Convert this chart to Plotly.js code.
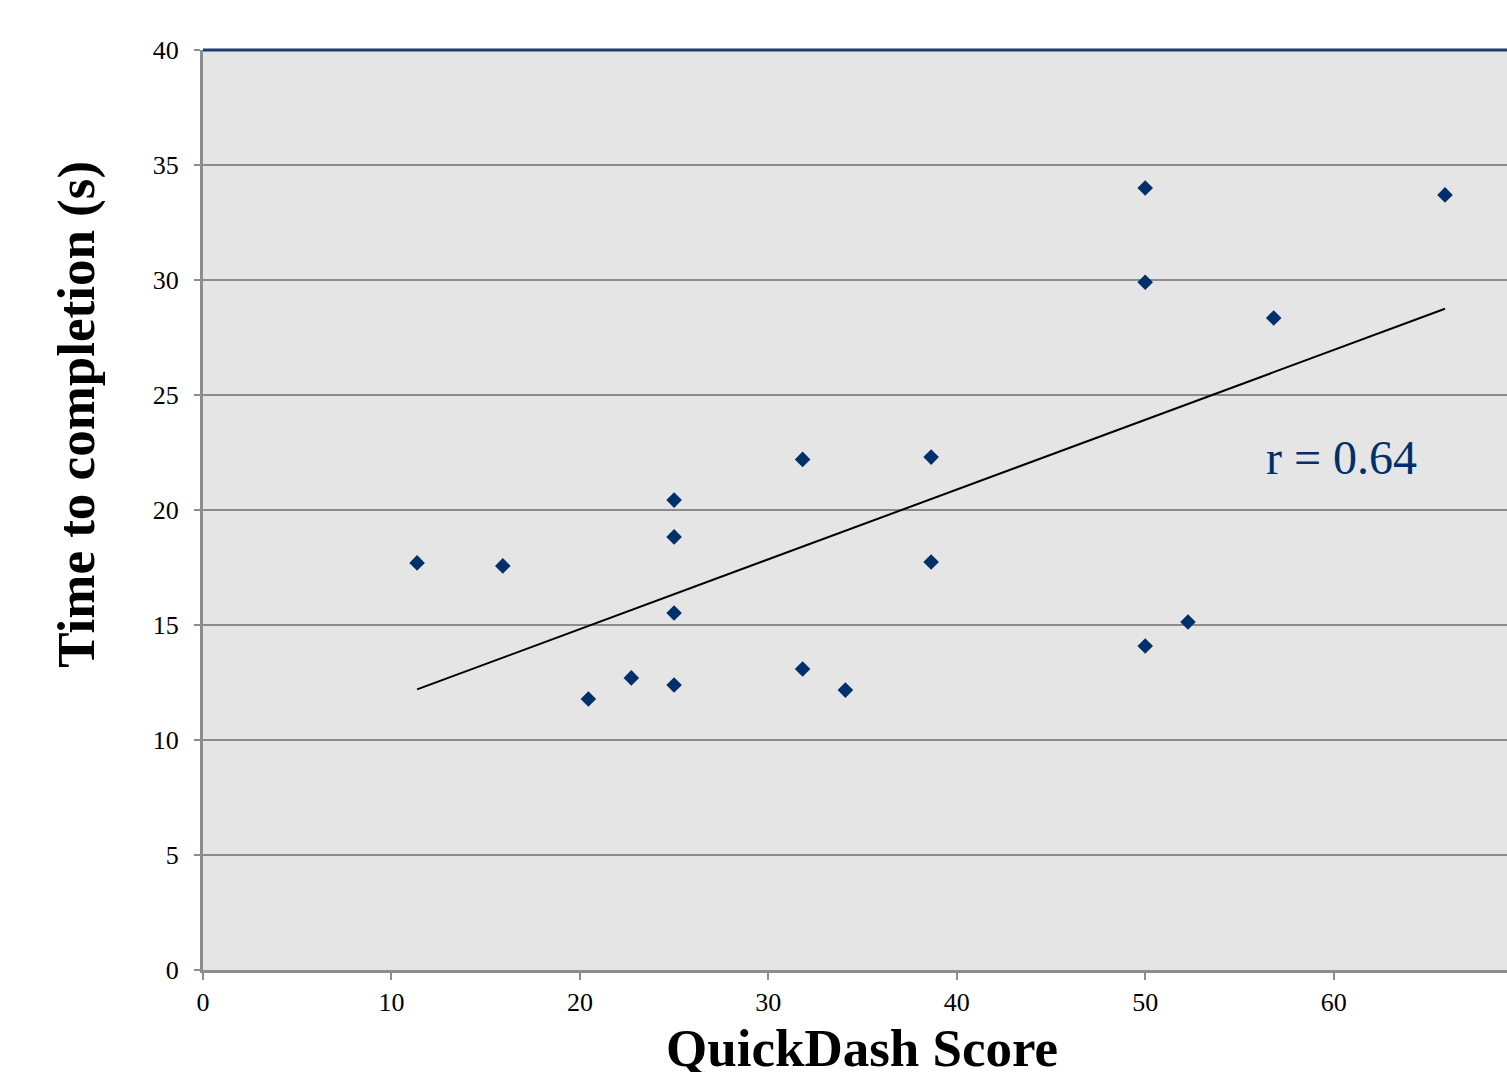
<!DOCTYPE html>
<html>
<head>
<meta charset="utf-8">
<script src="https://cdn.plot.ly/plotly-3.0.1.min.js"></script>
<style>html,body{margin:0;padding:0;background:#fff;}#chart{width:1507px;height:1072px;}</style>
</head>
<body>
<div id="chart"></div>
<script>
// QuickDash score vs time to completion (s)
const quickDash = [11.36, 15.91, 20.45, 22.73, 25.0, 25.0, 25.0, 25.0, 31.82, 31.82, 34.09, 38.64, 38.64, 50.0, 50.0, 50.0, 52.27, 56.82, 65.91];
const timeSec   = [17.7, 17.57, 11.78, 12.7, 20.43, 18.83, 15.52, 12.39, 22.2, 13.09, 12.17, 22.3, 17.74, 34.0, 29.9, 14.09, 15.13, 28.35, 33.7];
const trendX = [11.36, 65.91];
const trendY = [12.2, 28.75];
const rLabel = "r = 0.64";
const xTicks = [0, 10, 20, 30, 40, 50, 60];
const yTicks = [0, 5, 10, 15, 20, 25, 30, 35, 40];

const serif = "Liberation Serif";
const navy = "#00306b";

const traces = [
  {x: trendX, y: trendY, mode: "lines", type: "scatter",
   line: {color: "#000000", width: 2}, hoverinfo: "skip", showlegend: false},
  {x: quickDash, y: timeSec, mode: "markers", type: "scatter",
   marker: {symbol: "diamond", size: 12, color: navy, line: {width: 0}}, showlegend: false}
];

const layout = {
  width: 1507, height: 1072,
  margin: {l: 203, r: 0, t: 50, b: 102, pad: 0},
  paper_bgcolor: "#ffffff",
  plot_bgcolor: "#e5e5e5",
  showlegend: false,
  font: {family: serif, color: "#000000"},
  xaxis: {
    range: [0, 69.2], tickmode: "array", tickvals: xTicks, ticktext: xTicks.map(String),
    showgrid: false, zeroline: false,
    showline: true, linecolor: "#8a8d92", linewidth: 3,
    ticks: "outside", ticklen: 7, tickwidth: 2, tickcolor: "#8a8d92",
    tickfont: {family: serif, size: 26, color: "#000"}
  },
  yaxis: {
    range: [0, 40], tickmode: "array", tickvals: yTicks, ticktext: yTicks.map(String),
    showgrid: true, gridcolor: "#8c8c8c", gridwidth: 2, zeroline: false,
    showline: true, linecolor: "#8a8d92", linewidth: 3,
    ticks: "outside", ticklen: 6, tickwidth: 2, tickcolor: "#8a8d92",
    ticklabelstandoff: 10,
    tickfont: {family: serif, size: 26, color: "#000"}
  },
  shapes: [
    {type: "line", xref: "paper", yref: "paper", x0: 0, x1: 1, y0: 1, y1: 1,
     line: {color: "#1b3f6e", width: 3}}
  ],
  annotations: [
    {text: "<b>QuickDash Score</b>", xref: "paper", yref: "paper", x: 0.505, y: -0.085,
     xanchor: "center", yanchor: "middle", showarrow: false,
     font: {family: serif, size: 53, color: "#000"}},
    {text: "<b>Time to completion (s)</b>", xref: "paper", yref: "paper", x: -0.097, y: 0.604,
     xanchor: "center", yanchor: "middle", textangle: -90, showarrow: false,
     font: {family: serif, size: 53, color: "#000"}},
    {text: rLabel, xref: "x", yref: "y", x: 60.4, y: 22.3,
     xanchor: "center", yanchor: "middle", showarrow: false,
     font: {family: serif, size: 48, color: navy}}
  ]
};

Plotly.newPlot("chart", traces, layout, {displayModeBar: false, staticPlot: true});
</script>
</body>
</html>
